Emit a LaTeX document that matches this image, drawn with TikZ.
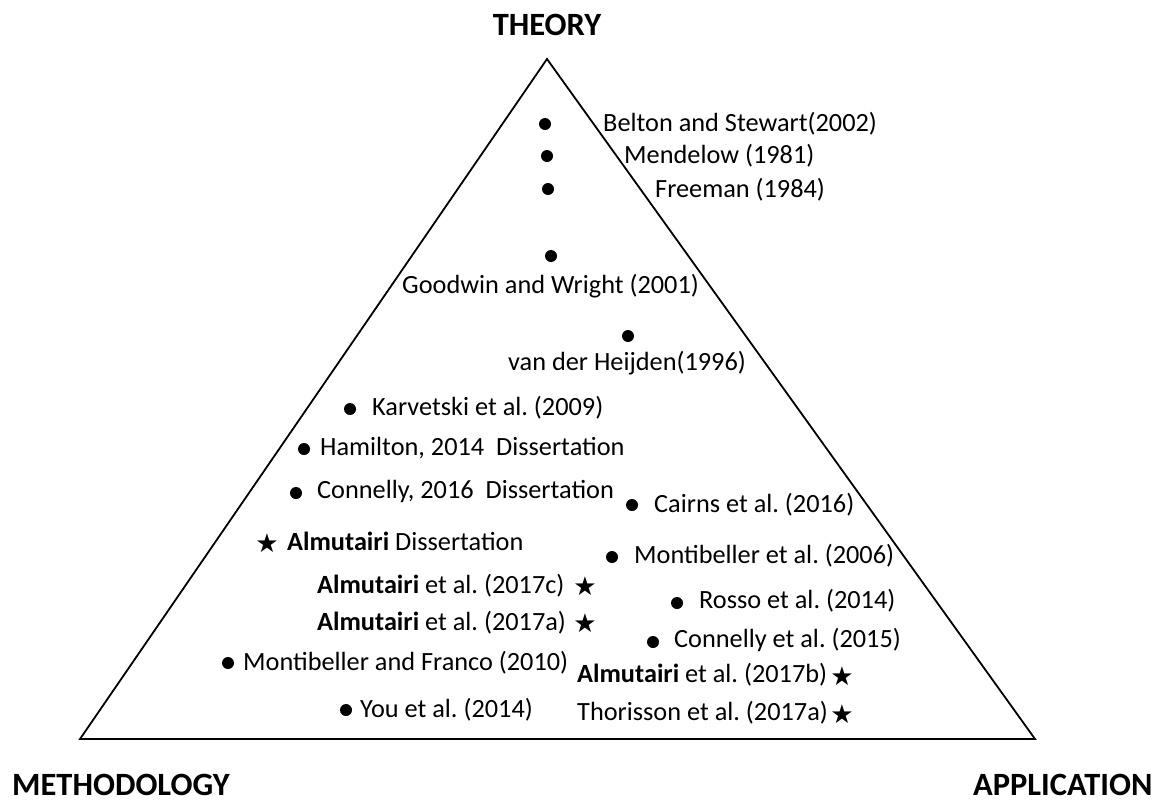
\documentclass[tikz,border=0pt]{standalone}
\usepackage{fontspec}
\setmainfont{Carlito}
\newfontfamily\symfont{DejaVu Sans}
\frenchspacing
\begin{document}
\begin{tikzpicture}[x=1pt,y=-1pt,
  lbl/.style={anchor=base west,inner sep=0pt,font=\fontsize{26.3}{30}\selectfont},
  head/.style={anchor=base,inner sep=0pt,font=\fontsize{32.5}{36}\selectfont\bfseries},
  dot/.style={circle,fill=black,inner sep=0pt,minimum size=12pt},
  starm/.style={inner sep=0pt,font=\symfont\fontsize{26}{28}\selectfont}]
\useasboundingbox (0,0) rectangle (1166,801);
% triangle
\coordinate (top) at (547,59);
\coordinate (bl) at (80,739);
\coordinate (br) at (1035,739);
\draw[line width=1.8pt,line join=miter] (top) -- (bl) -- (br) -- cycle;
% headings
\node[head] (theory) at (547,35) {THEORY};
\node[head,anchor=base west] (meth) at (12,795) {METHODOLOGY};
\node[head,anchor=base west] (app) at (973,795) {APPLICATION};
% top dots and labels
\node[dot] (d1) at (545,124) {};
\node[lbl] (t1) at (603,131) {Belton and Stewart(2002)};
\node[dot] (d2) at (547,156) {};
\node[lbl] (t2) at (624,163) {Mendelow (1981)};
\node[dot] (d3) at (548,189) {};
\node[lbl] (t3) at (655,197) {Freeman (1984)};
\node[dot] (d4) at (551,256) {};
\node[lbl] (t4) at (402,293) {Goodwin and Wright (2001)};
\node[dot] (d5) at (628,336) {};
\node[lbl] (t5) at (508,370) {van der Heijden(1996)};
% left column
\node[dot] (d6) at (350,409) {};
\node[lbl] (t6) at (372,415) {Karvetski et al. (2009)};
\node[dot] (d7) at (304,449) {};
\node[lbl] (t7) at (320,455) {Hamilton, 2014\ \ Dissertation};
\node[dot] (d8) at (296,493) {};
\node[lbl] (t8) at (317,498) {Connelly, 2016\ \ Dissertation};
\node[starm] (s1) at (267,543) {★};
\node[lbl] (t9) at (287,550) {\textbf{Almutairi} Dissertation};
\node[lbl] (t10) at (317,593) {\textbf{Almutairi} et al. (2017c)};
\node[starm] (s2) at (585,586) {★};
\node[lbl] (t11) at (317,630) {\textbf{Almutairi} et al. (2017a)};
\node[starm] (s3) at (585,623) {★};
\node[dot] (d9) at (228,663) {};
\node[lbl] (t12) at (243,670) {Montibeller and Franco (2010)};
\node[dot] (d10) at (346,710) {};
\node[lbl] (t13) at (360,717) {You et al. (2014)};
% right column
\node[dot] (d11) at (632,505) {};
\node[lbl] (t14) at (654,512) {Cairns et al. (2016)};
\node[dot] (d12) at (612,557) {};
\node[lbl] (t15) at (634,563) {Montibeller et al. (2006)};
\node[dot] (d13) at (677,603) {};
\node[lbl] (t16) at (699,608) {Rosso et al. (2014)};
\node[dot] (d14) at (653,642) {};
\node[lbl] (t17) at (674,647) {Connelly et al. (2015)};
\node[lbl] (t18) at (577,682) {\textbf{Almutairi} et al. (2017b)};
\node[starm] (s4) at (842,676) {★};
\node[lbl] (t19) at (577,720) {Thorisson et al. (2017a)};
\node[starm] (s5) at (842,714) {★};
\end{tikzpicture}
\end{document}
